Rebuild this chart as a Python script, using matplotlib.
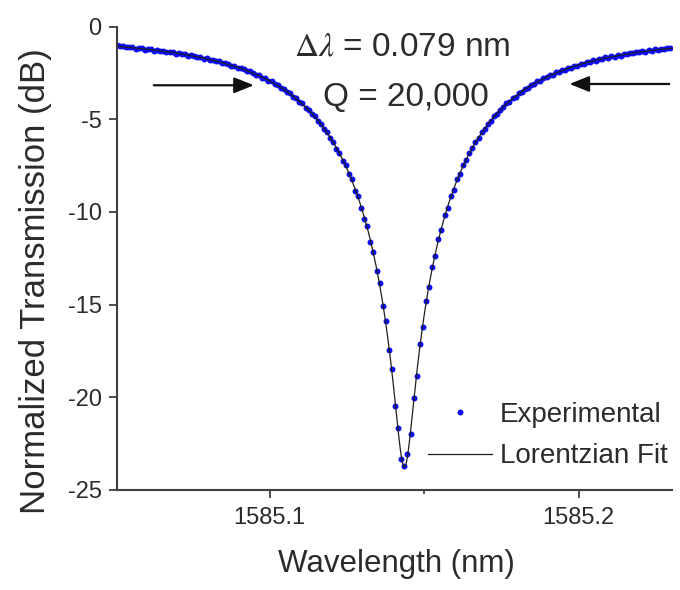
import numpy as np
import matplotlib
matplotlib.use("Agg")
import matplotlib.pyplot as plt
from matplotlib.ticker import FixedLocator, MultipleLocator

plt.rcParams['font.family'] = ['Liberation Sans', 'DejaVu Sans']
plt.rcParams['mathtext.fontset'] = 'stix'
plt.rcParams['axes.unicode_minus'] = False

# Measured transmission (dB), one sample every 1 pm starting at WL_START_NM
WL_START_NM = 1585.0506
WL_STEP_NM = 0.001
transmission_db = [
    -1.01, -1.05, -1.06, -1.13, -1.08, -1.12, -1.19, -1.14, -1.17, -1.25,
    -1.20, -1.22, -1.31, -1.26, -1.33, -1.30, -1.40, -1.37, -1.36, -1.46,
    -1.44, -1.51, -1.48, -1.57, -1.55, -1.58, -1.67, -1.64, -1.73, -1.71,
    -1.80, -1.79, -1.88, -1.87, -1.97, -1.98, -2.02, -2.12, -2.13, -2.22,
    -2.24, -2.29, -2.41, -2.42, -2.49, -2.61, -2.63, -2.76, -2.80, -2.92,
    -2.96, -3.11, -3.15, -3.31, -3.37, -3.54, -3.60, -3.79, -3.86, -4.06,
    -4.15, -4.37, -4.48, -4.72, -4.84, -5.11, -5.24, -5.54, -5.70, -6.04,
    -6.21, -6.60, -6.80, -7.25, -7.46, -7.98, -8.24, -8.85, -9.12, -9.80,
    -10.40, -10.78, -11.65, -12.15, -13.20, -13.82, -15.05, -15.90, -17.45, -18.50,
    -20.45, -21.65, -23.35, -23.70, -23.05, -22.00, -20.05, -18.85, -17.15, -16.20,
    -14.80, -14.05, -12.95, -12.38, -11.44, -10.96, -10.18, -9.81, -9.14, -8.80,
    -8.25, -7.96, -7.48, -7.22, -6.81, -6.58, -6.22, -6.03, -5.70, -5.53,
    -5.25, -5.10, -4.84, -4.71, -4.48, -4.36, -4.15, -4.06, -3.86, -3.78,
    -3.61, -3.53, -3.37, -3.31, -3.16, -3.10, -2.96, -2.92, -2.79, -2.75,
    -2.63, -2.60, -2.48, -2.46, -2.35, -2.34, -2.23, -2.22, -2.12, -2.11,
    -2.02, -2.03, -1.92, -1.93, -1.83, -1.84, -1.75, -1.77, -1.67, -1.69,
    -1.61, -1.63, -1.54, -1.57, -1.48, -1.51, -1.43, -1.45, -1.37, -1.40,
    -1.33, -1.36, -1.28, -1.31, -1.24, -1.27, -1.20, -1.23, -1.16, -1.17,
]
wavelength_nm = WL_START_NM + WL_STEP_NM * np.arange(len(transmission_db))

# Lorentzian fit of the resonance
FIT_CENTER_NM = 1585.1436
FIT_FWHM_NM = 0.079
FIT_BASELINE_DB = -0.35
FIT_MIN_DB = -23.75

X_LIMITS = (1585.0506, 1585.2302)
Y_LIMITS = (-25, 0)
X_MAJOR_TICKS = [1585.1, 1585.2]
X_TICK_LABELS = ['1585.1', '1585.2']
Y_TICKS = [0, -5, -10, -15, -20, -25]


def lorentzian_db(wl):
    base = 10 ** (FIT_BASELINE_DB / 10)
    depth = 1 - 10 ** ((FIT_MIN_DB - FIT_BASELINE_DB) / 10)
    u = 2 * (wl - FIT_CENTER_NM) / FIT_FWHM_NM
    return 10 * np.log10(base * (1 - depth / (1 + u ** 2)))


fig = plt.figure(figsize=(6.8, 5.9), dpi=100)
ax = fig.add_axes([117 / 680, 1 - 490 / 590, 555 / 680, 463.5 / 590])

ink = '#2b2b2b'
ax.plot(wavelength_nm, transmission_db, 'o', ms=4.3, color='#0c0cf5',
        mec='none', label='Experimental', zorder=2)
fit_wl = np.linspace(X_LIMITS[0], X_LIMITS[1], 3000)
ax.plot(fit_wl, lorentzian_db(fit_wl), '-', lw=0.9, color='#1e1e1e',
        label='Lorentzian Fit', zorder=3)

ax.set_xlim(*X_LIMITS)
ax.set_ylim(*Y_LIMITS)
ax.xaxis.set_major_locator(FixedLocator(X_MAJOR_TICKS))
ax.set_xticklabels(X_TICK_LABELS)
ax.xaxis.set_minor_locator(MultipleLocator(0.05))
ax.yaxis.set_major_locator(FixedLocator(Y_TICKS))
ax.set_yticklabels([str(t) for t in Y_TICKS])

for side in ('top', 'right'):
    ax.spines[side].set_visible(False)
for side in ('left', 'bottom'):
    ax.spines[side].set_linewidth(1.5)
    ax.spines[side].set_color('#404040')

ax.tick_params(axis='both', which='major', direction='out', length=6,
               width=1.3, color='#404040', labelsize=17, labelcolor=ink)
ax.tick_params(axis='x', which='major', pad=6)
ax.tick_params(axis='y', which='major', pad=5)
ax.tick_params(axis='x', which='minor', direction='out', length=3,
               width=1.2, color='#404040')

ax.set_xlabel('Wavelength (nm)', fontsize=22.5, color=ink)
ax.xaxis.set_label_coords((396 - 117) / 555, (490 - 564) / 463.5)
ax.xaxis.label.set_va('center')
ax.set_ylabel('Normalized Transmission (dB)', fontsize=25, color=ink)
ax.yaxis.set_label_coords((36 - 117) / 555, (490 - 281) / 463.5)
ax.yaxis.label.set_va('center')

# Linewidth and quality factor annotation
ax.text((402 - 117) / 555, (490 - 47) / 463.5, r'$\Delta\lambda$ = 0.079 nm',
        transform=ax.transAxes, ha='center', va='center', fontsize=24, color=ink)
ax.text((406 - 117) / 555, (490 - 98) / 463.5, 'Q = 20,000',
        transform=ax.transAxes, ha='center', va='center', fontsize=24, color=ink)

# Arrows marking the half-maximum points
arrow_style = dict(arrowstyle='-|>,head_length=0.8,head_width=0.32',
                   mutation_scale=15, lw=1.6, color='#111111',
                   shrinkA=0, shrinkB=0)
ax.annotate('', xy=(1585.0949, -3.17), xytext=(1585.0625, -3.17),
            arrowprops=arrow_style)
ax.annotate('', xy=(1585.1970, -3.10), xytext=(1585.2293, -3.10),
            arrowprops=arrow_style)

leg = ax.legend(loc='upper left', bbox_to_anchor=(428 / 680, 1 - 402 / 590),
                bbox_transform=fig.transFigure, frameon=False, fontsize=20,
                borderpad=0, borderaxespad=0, handlelength=2.3,
                handletextpad=0.3, labelspacing=0.55, numpoints=1)
for txt in leg.get_texts():
    txt.set_color(ink)

fig.savefig('out.png', dpi=100, facecolor='white')
